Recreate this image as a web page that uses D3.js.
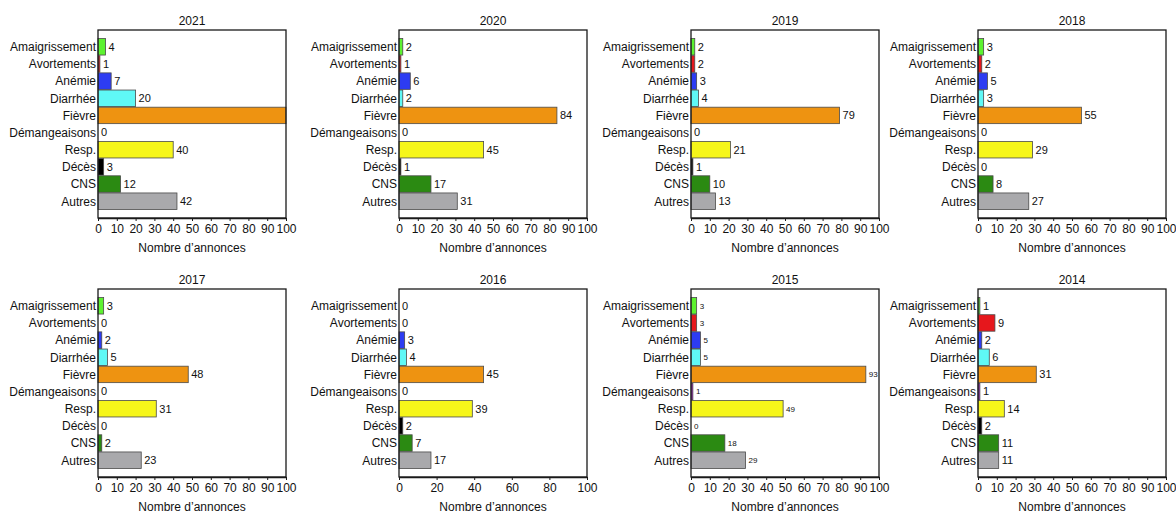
<!DOCTYPE html>
<html>
<head>
<meta charset="utf-8">
<script src="https://cdn.jsdelivr.net/npm/d3@7"></script>
<style>
  html, body { margin: 0; padding: 0; background: #fff; }
  svg { display: block; font-family: "Liberation Sans", Arial, sans-serif; }
</style>
</head>
<body>
<svg id="chart" width="1176" height="513"></svg>
<script>
// Symptom categories, top to bottom
const categories = ["Amaigrissement", "Avortements", "Anémie", "Diarrhée", "Fièvre",
  "Démangeaisons", "Resp.", "Décès", "CNS", "Autres"];

// Panel titles, left to right, top row then bottom row
const years = ["2021", "2020", "2019", "2018", "2017", "2016", "2015", "2014"];

// Number of announcements per category, one array per year
const values2021 = [4, 1, 7, 20, 100, 0, 40, 3, 12, 42];
const values2020 = [2, 1, 6, 2, 84, 0, 45, 1, 17, 31];
const values2019 = [2, 2, 3, 4, 79, 0, 21, 1, 10, 13];
const values2018 = [3, 2, 5, 3, 55, 0, 29, 0, 8, 27];
const values2017 = [3, 0, 2, 5, 48, 0, 31, 0, 2, 23];
const values2016 = [0, 0, 3, 4, 45, 0, 39, 2, 7, 17];
const values2015 = [3, 3, 5, 5, 93, 1, 49, 0, 18, 29];
const values2014 = [1, 9, 2, 6, 31, 1, 14, 2, 11, 11];

// X tick values per panel
const ticksBy10 = [0, 10, 20, 30, 40, 50, 60, 70, 80, 90, 100];
const ticksBy20 = [0, 20, 40, 60, 80, 100];

const seriesByYear = {
  "2021": values2021, "2020": values2020, "2019": values2019, "2018": values2018,
  "2017": values2017, "2016": values2016, "2015": values2015, "2014": values2014
};
const ticksByYear = {
  "2021": ticksBy10, "2020": ticksBy10, "2019": ticksBy10, "2018": ticksBy10,
  "2017": ticksBy10, "2016": ticksBy20, "2015": ticksBy10, "2014": ticksBy10
};

// Styling
const colors = {
  "Amaigrissement": "#5df230", "Avortements": "#e6171c", "Anémie": "#2d3cf2",
  "Diarrhée": "#5ff8f6", "Fièvre": "#ee9311", "Démangeaisons": "#a020c0",
  "Resp.": "#f6f61a", "Décès": "#000000", "CNS": "#2b8a12", "Autres": "#a9a9ac"
};
const valueFont = { "2015": 8 };

const svg = d3.select("#chart");
const colLefts = [98, 399, 691, 978];
const rowTops = [30, 289];
const W = 188, H = 188;

years.forEach((year, i) => {
  const left = colLefts[i % 4];
  const top = rowTops[Math.floor(i / 4)];
  const vals = seriesByYear[year];
  const data = categories.map((c, k) => ({ cat: c, v: vals[k] }));

  const x = d3.scaleLinear().domain([0, 100]).range([0, W]);
  const y = d3.scaleBand().domain(categories).range([0, H])
    .paddingOuter(0.5).paddingInner(0.04);

  const g = svg.append("g").attr("transform", `translate(${left},${top})`);

  // Bars
  g.selectAll("rect.bar").data(data).join("rect")
    .attr("class", "bar")
    .attr("x", 0)
    .attr("y", d => y(d.cat))
    .attr("width", d => x(Math.min(d.v, 100)))
    .attr("height", y.bandwidth())
    .attr("fill", d => colors[d.cat])
    .attr("stroke", "#4a4a4a")
    .attr("stroke-width", 0.8);

  // Value labels (hidden when the bar fills the whole frame)
  const fs = valueFont[year] || 11;
  g.selectAll("text.val").data(data.filter(d => d.v < 100)).join("text")
    .attr("class", "val")
    .attr("x", d => x(d.v) + 3)
    .attr("y", d => y(d.cat) + y.bandwidth() / 2)
    .attr("dy", "0.35em")
    .attr("font-size", fs)
    .attr("fill", "#111")
    .text(d => d.v);

  // Category labels
  g.selectAll("text.cat").data(categories).join("text")
    .attr("class", "cat")
    .attr("x", -2)
    .attr("y", c => y(c) + y.bandwidth() / 2)
    .attr("dy", "0.36em")
    .attr("text-anchor", "end")
    .attr("font-size", 12)
    .attr("fill", "#111")
    .text(c => c);

  // Frame
  g.append("rect")
    .attr("x", 0).attr("y", 0).attr("width", W).attr("height", H)
    .attr("fill", "none").attr("stroke", "#1a1a1a").attr("stroke-width", 1.3);

  // X axis
  const xAxis = d3.axisBottom(x).tickValues(ticksByYear[year])
    .tickSize(3).tickSizeOuter(0).tickPadding(3).tickFormat(d3.format("d"));
  const ax = g.append("g").attr("transform", `translate(0,${H})`).call(xAxis);
  ax.select(".domain").attr("stroke", "#1a1a1a").attr("stroke-width", 1.3);
  ax.selectAll(".tick line").attr("stroke", "#1a1a1a");
  ax.selectAll(".tick text").attr("font-size", 12).attr("fill", "#111")
    .attr("font-family", "'Liberation Sans', Arial, sans-serif");

  // Titles
  g.append("text")
    .attr("x", W / 2).attr("y", -5)
    .attr("text-anchor", "middle").attr("font-size", 12).attr("fill", "#111")
    .text(year);
  g.append("text")
    .attr("x", W / 2).attr("y", H + 34)
    .attr("text-anchor", "middle").attr("font-size", 12).attr("fill", "#111")
    .text("Nombre d’annonces");
});
</script>
</body>
</html>
